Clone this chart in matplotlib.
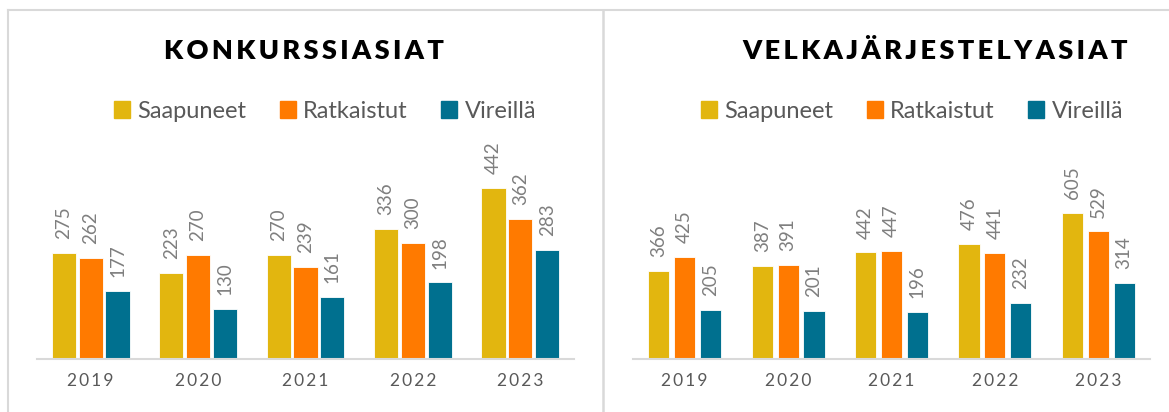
import matplotlib.pyplot as plt
from matplotlib.patches import Patch
from matplotlib.lines import Line2D
import numpy as np

plt.rcParams['font.family'] = ['Lato', 'DejaVu Sans']

years = ['2019', '2020', '2021', '2022', '2023']
series = ['Saapuneet', 'Ratkaistut', 'Vireillä']
colors = ['#E2B60F', '#FF7A00', '#00708F']

# konkurssiasiat
konk_saap = [275, 223, 270, 336, 442]
konk_ratk = [262, 270, 239, 300, 362]
konk_vir = [177, 130, 161, 198, 283]

# velkajärjestelyasiat
velka_saap = [366, 387, 442, 476, 605]
velka_ratk = [425, 391, 447, 441, 529]
velka_vir = [205, 201, 196, 232, 314]


def spaced(s):
    return '\u2009'.join(s)


fig = plt.figure(figsize=(11.69, 4.12), dpi=100)
W, H = 1169, 412

# panel frames
border = '#d9d9d9'
fig.add_artist(Line2D([8 / W, 8 / W], [0, 1 - 10 / H], color=border, lw=1.5))
fig.add_artist(Line2D([8 / W, 1], [1 - 10 / H, 1 - 10 / H], color=border, lw=1.5))
fig.add_artist(Line2D([603 / W, 603 / W], [0, 1 - 10 / H], color=border, lw=1.8))


def panel(rect, data, ymax, width, title, title_x, legend_x):
    ax = fig.add_axes(rect)
    x = np.arange(len(years))
    for i, vals in enumerate(data):
        pos = x + (i - 1) * 0.25
        ax.bar(pos, vals, width=width, color=colors[i], edgecolor='white', linewidth=0.6)
        for p, v in zip(pos, vals):
            ax.annotate(str(v), (p, v), xytext=(0, 10), textcoords='offset points',
                        rotation=90, ha='center', va='bottom', fontsize=13.5, color='#7f7f7f')
    ax.set_xlim(-0.5, len(years) - 0.5)
    ax.set_ylim(0, ymax)
    ax.set_xticks(x)
    ax.set_xticklabels([spaced(y) for y in years], fontsize=12.5, color='#595959')
    ax.tick_params(axis='x', length=0, pad=10)
    ax.set_yticks([])
    for s in ['top', 'right', 'left']:
        ax.spines[s].set_visible(False)
    ax.spines['bottom'].set_color(border)
    ax.spines['bottom'].set_linewidth(1.5)
    fig.text(title_x / W, 1 - 51 / H, spaced(title), ha='center', va='center',
             fontsize=19.5, fontweight='heavy', color='black')
    handles = [Patch(color=c) for c in colors]
    fig.legend(handles, series, loc='center', bbox_to_anchor=(legend_x / W, 1 - 111 / H),
               ncol=3, frameon=False, fontsize=17, handlelength=0.7, handleheight=0.7,
               handletextpad=0.3, columnspacing=1.4, labelcolor='#595959')
    return ax


panel([37 / W, 1 - 359 / H, 537 / W, 229 / H], [konk_saap, konk_ratk, konk_vir],
      592, 0.225, 'KONKURSSIASIAT', 304, 325)
panel([633 / W, 1 - 359 / H, 517 / W, 229 / H], [velka_saap, velka_ratk, velka_vir],
      950, 0.205, 'VELKAJÄRJESTELYASIAT', 935, 912)

fig.savefig('out.png', dpi=100)
